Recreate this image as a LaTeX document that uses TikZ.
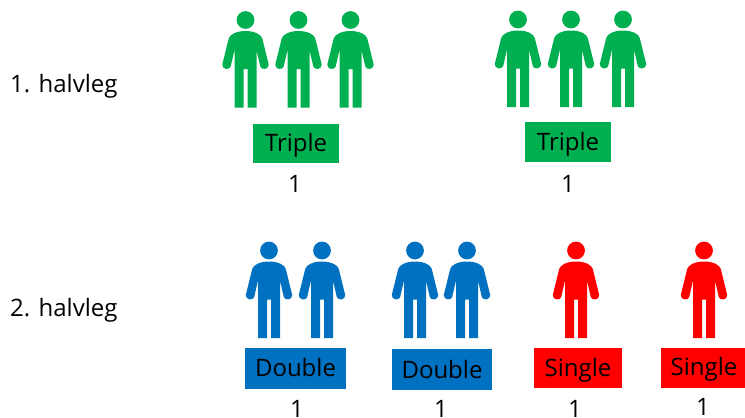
\documentclass[tikz,border=0pt]{standalone}
\usepackage{fontspec}
\setmainfont{Open Sans}
\definecolor{grn}{HTML}{00B050}
\definecolor{blu}{HTML}{0070C0}
\definecolor{rd}{HTML}{FF0000}
\tikzset{
  personshape/.pic={
    \fill (0,0) circle (8.9);
    \fill (-2,49) -- (-2,87.5) -- (-11,87.5) -- (-11,30) -- (-14.8,46.5)
      .. controls (-16,50.5) and (-23.5,49.5) .. (-23.2,44.5)
      -- (-16.8,18.5) .. controls (-15.8,14.5) and (-9,11) .. (0,11)
      .. controls (9,11) and (15.8,14.5) .. (16.8,18.5)
      -- (23.2,44.5) .. controls (23.5,49.5) and (16,50.5) .. (14.8,46.5)
      -- (11,30) -- (11,87.5) -- (2,87.5) -- (2,49) -- cycle;
  },
  lab/.style={font=\fontsize{24}{28}\selectfont,text=black,inner sep=0pt},
  tag/.style={font=\fontsize{24}{28}\selectfont,text=black,inner sep=0pt,anchor=base},
}
\begin{document}
\begin{tikzpicture}[x=1pt,y=-1pt]
\useasboundingbox (0,0) rectangle (745,418);
% people
\foreach \x in {245.5,298.5,350.5} \path pic[grn] at (\x,20) {personshape};
\foreach \x in {518,571,623} \path pic[grn] at (\x,19.5) {personshape};
\foreach \x in {269,322,415,467} \path pic[blu] at (\x,250.5) {personshape};
\foreach \x in {576,704} \path pic[rd] at (\x,250.5) {personshape};
% labels
\node[lab,anchor=base west] (h1) at (10,92) {1. halvleg};
\node[lab,anchor=base west] (h2) at (10,316) {2. halvleg};
% boxes
\fill[grn] (253,124) rectangle (339,163);
\node[tag] (t1) at (296,151) {Triple};
\fill[grn] (525,122) rectangle (611,162);
\node[tag] (t2) at (568,150) {Triple};
\fill[blu] (245,348) rectangle (346,389);
\node[tag] (d1) at (295.5,376) {Double};
\fill[blu] (392,349) rectangle (492,390);
\node[tag] (d2) at (442,378) {Double};
\fill[rd] (534,348) rectangle (622,388);
\node[tag] (s1) at (578,376) {Single};
\fill[rd] (661,348) rectangle (745,388);
\node[tag] (s2) at (704,375) {Single};
% numbers
\node[tag] (n1) at (295,192.5) {1};
\node[tag] (n2) at (568,192.5) {1};
\node[tag] (n3) at (297,417) {1};
\node[tag] (n4) at (441,417) {1};
\node[tag] (n5) at (575,417) {1};
\node[tag] (n6) at (703,415.5) {1};
\end{tikzpicture}
\end{document}
